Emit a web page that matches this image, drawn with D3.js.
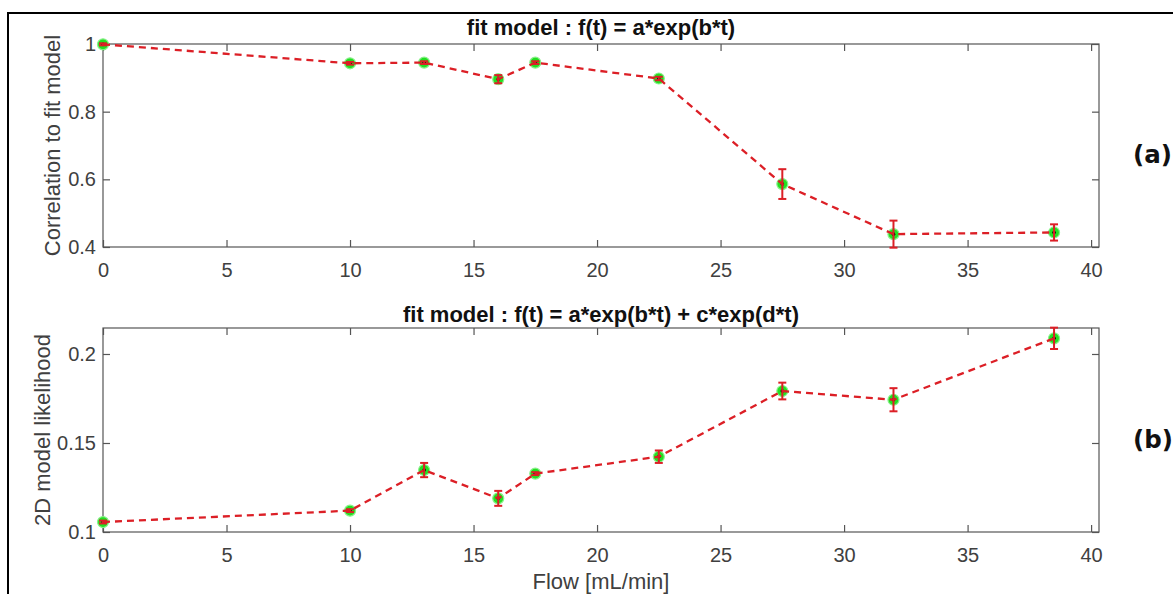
<!DOCTYPE html>
<html>
<head>
<meta charset="utf-8">
<script src="https://cdn.jsdelivr.net/npm/d3@7/dist/d3.min.js"></script>
<style>
  html, body { margin: 0; padding: 0; background: #fff; }
  svg { display: block; }
  text { font-family: "Liberation Sans", Arial, Helvetica, sans-serif; }
</style>
</head>
<body>
<svg id="chart" width="1173" height="594"></svg>
<script>
// ---------------- data ----------------
const flow = [0, 10, 13, 16, 17.5, 22.5, 27.5, 32, 38.5];
const corrValues = [0.999, 0.943, 0.945, 0.896, 0.945, 0.898, 0.586, 0.438, 0.443];
const corrErrors = [0.003, 0.004, 0.004, 0.012, 0.004, 0.005, 0.044, 0.040, 0.024];
const likeValues = [0.1056, 0.1120, 0.1348, 0.1189, 0.1328, 0.1423, 0.1792, 0.1743, 0.2088];
const likeErrors = [0.0008, 0.0008, 0.0040, 0.0042, 0.0008, 0.0035, 0.0047, 0.0065, 0.0060];
const xTicks = [0, 5, 10, 15, 20, 25, 30, 35, 40];
const corrTicks = [0.4, 0.6, 0.8, 1];
const likeTicks = [0.1, 0.15, 0.2];
const titleA = "fit model : f(t) = a*exp(b*t)";
const titleB = "fit model : f(t) = a*exp(b*t) + c*exp(d*t)";
const yLabelA = "Correlation to fit model";
const yLabelB = "2D model likelihood";
const xLabel = "Flow [mL/min]";

// ---------------- drawing ----------------
const svg = d3.select("#chart");
const axisColor = "#555";
const textColor = "#404040";
const red = "#dc1f26";

svg.append("rect")
  .attr("x", 8).attr("y", 13).attr("width", 1200).attr("height", 640)
  .attr("fill", "none").attr("stroke", "#000").attr("stroke-width", 2);

function panel(cfg) {
  const g = svg.append("g");
  const x = d3.scaleLinear().domain([0, 40.32]).range([cfg.left, cfg.right]);
  const y = d3.scaleLinear().domain(cfg.yDomain).range([cfg.bottom, cfg.top]);

  // box
  g.append("rect")
    .attr("x", cfg.left).attr("y", cfg.top)
    .attr("width", cfg.right - cfg.left).attr("height", cfg.bottom - cfg.top)
    .attr("fill", "none").attr("stroke", axisColor).attr("stroke-width", 1.2);

  const tl = 7;
  const styleAxis = sel => {
    sel.select(".domain").remove();
    sel.selectAll(".tick line").attr("stroke", axisColor).attr("stroke-width", 1.2);
    sel.selectAll(".tick text").attr("fill", textColor)
      .style("font-size", "20px").style("font-family", '"Liberation Sans", Arial, sans-serif');
  };
  g.append("g").attr("transform", `translate(0,${cfg.bottom})`)
    .call(d3.axisBottom(x).tickValues(xTicks).tickSize(-tl).tickPadding(16).tickFormat(d => String(d)))
    .call(styleAxis);
  g.append("g").attr("transform", `translate(0,${cfg.top})`)
    .call(d3.axisTop(x).tickValues(xTicks).tickSize(-tl).tickFormat(""))
    .call(styleAxis);
  g.append("g").attr("transform", `translate(${cfg.left},0)`)
    .call(d3.axisLeft(y).tickValues(cfg.yTicks).tickSize(-tl).tickPadding(7).tickFormat(d => String(d)))
    .call(styleAxis);
  g.append("g").attr("transform", `translate(${cfg.right},0)`)
    .call(d3.axisRight(y).tickValues(cfg.yTicks).tickSize(-tl).tickFormat(""))
    .call(styleAxis);

  // title
  g.append("text")
    .attr("x", (cfg.left + cfg.right) / 2).attr("y", cfg.titleY)
    .attr("text-anchor", "middle").attr("fill", "#111")
    .style("font-size", "22px").style("font-weight", "bold")
    .text(cfg.title);

  // y label
  g.append("text")
    .attr("transform", `translate(${cfg.yLabelX},${(cfg.top + cfg.bottom) / 2}) rotate(-90)`)
    .attr("text-anchor", "middle").attr("fill", textColor)
    .style("font-size", "22px")
    .text(cfg.yLabel);

  const data = flow.map((f, i) => ({ x: f, v: cfg.values[i], e: cfg.errors[i] }));

  // markers (green), black centre
  g.selectAll(".mk").data(data).enter().append("circle")
    .attr("cx", d => x(d.x)).attr("cy", d => y(d.v)).attr("r", 5.5)
    .attr("fill", "#22e022").attr("stroke", "#8af08a").attr("stroke-width", 1.2);
  g.selectAll(".dot").data(data).enter().append("circle")
    .attr("cx", d => x(d.x)).attr("cy", d => y(d.v)).attr("r", 1.8)
    .attr("fill", "#000");

  // dashed line
  g.append("path").datum(data)
    .attr("d", d3.line().x(d => x(d.x)).y(d => y(d.v)))
    .attr("fill", "none").attr("stroke", red).attr("stroke-width", 2.3)
    .attr("stroke-dasharray", "7,5");

  // error bars
  const cap = 4;
  const eb = g.selectAll(".eb").data(data).enter().append("g")
    .attr("stroke", red).attr("stroke-width", 2);
  eb.append("line")
    .attr("x1", d => x(d.x)).attr("x2", d => x(d.x))
    .attr("y1", d => y(d.v - d.e)).attr("y2", d => y(d.v + d.e));
  eb.append("line")
    .attr("x1", d => x(d.x) - cap).attr("x2", d => x(d.x) + cap)
    .attr("y1", d => y(d.v - d.e)).attr("y2", d => y(d.v - d.e));
  eb.append("line")
    .attr("x1", d => x(d.x) - cap).attr("x2", d => x(d.x) + cap)
    .attr("y1", d => y(d.v + d.e)).attr("y2", d => y(d.v + d.e));

  // panel tag
  svg.append("text")
    .attr("x", 1133).attr("y", cfg.tagY)
    .attr("fill", "#111")
    .style("font-size", "24.5px").style("font-weight", "bold")
    .style("font-family", '"DejaVu Sans", sans-serif')
    .text(cfg.tag);
}

panel({
  left: 103, right: 1099, top: 44, bottom: 247,
  yDomain: [0.4, 1], yTicks: corrTicks,
  values: corrValues, errors: corrErrors,
  title: titleA, titleY: 35, yLabel: yLabelA, yLabelX: 60,
  tag: "(a)", tagY: 163
});
panel({
  left: 103, right: 1099, top: 328, bottom: 532,
  yDomain: [0.1, 0.2146], yTicks: likeTicks,
  values: likeValues, errors: likeErrors,
  title: titleB, titleY: 322, yLabel: yLabelB, yLabelX: 50,
  tag: "(b)", tagY: 448
});

svg.append("text")
  .attr("x", 601).attr("y", 589)
  .attr("text-anchor", "middle").attr("fill", textColor)
  .style("font-size", "22px")
  .text(xLabel);
</script>
</body>
</html>
